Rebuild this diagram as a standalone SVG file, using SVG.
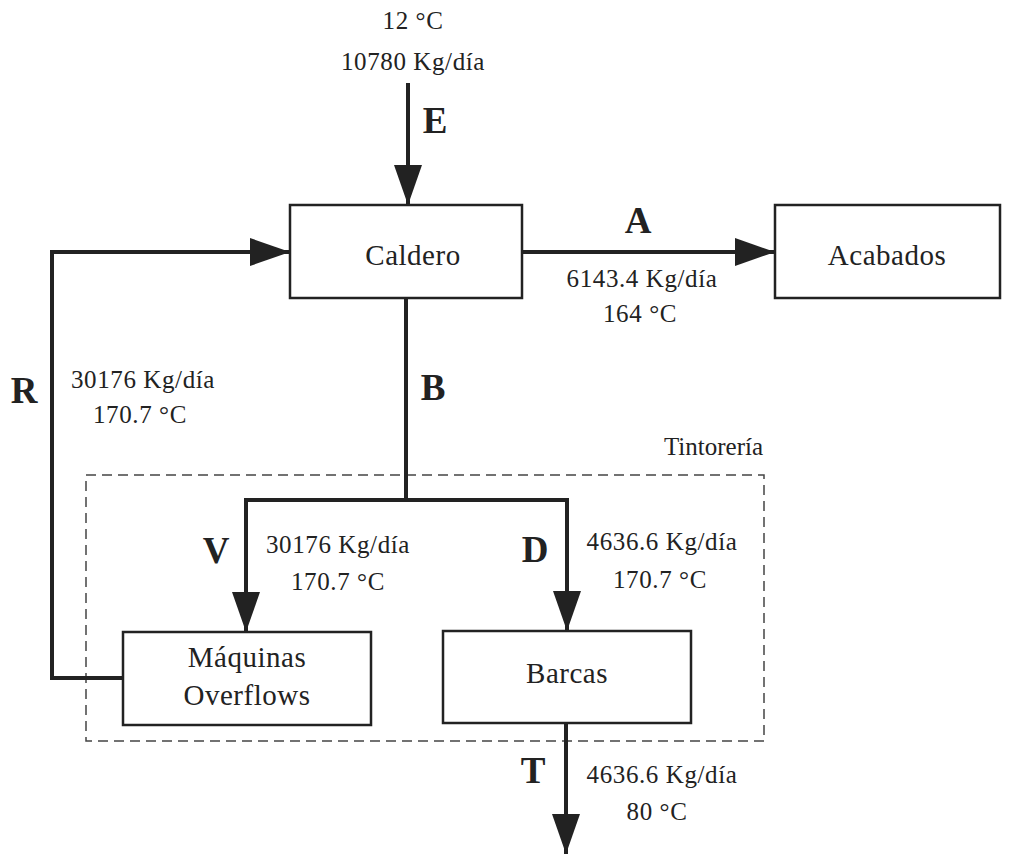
<svg xmlns="http://www.w3.org/2000/svg" width="1010" height="854" viewBox="0 0 1010 854">
  <defs>
    <marker id="arrow" markerUnits="userSpaceOnUse" markerWidth="40" markerHeight="28" refX="40" refY="14" orient="auto">
      <path d="M0,0 L40,14 L0,28 Z" fill="#222"/>
    </marker>
    <style>
      text { font-family: "Liberation Serif", "Times New Roman", serif; fill: #222; }
      .node rect { fill: #fff; stroke: #222; stroke-width: 2.5; }
      .node text { font-size: 29px; text-anchor: middle; letter-spacing: 0.5px; }
      .flow { fill: none; stroke: #222; stroke-width: 4; }
      .val { font-size: 25px; text-anchor: middle; letter-spacing: 0.6px; }
      .tag { font-size: 37px; font-weight: bold; text-anchor: middle; }
      .zone { fill: none; stroke: #444; stroke-width: 1.5; stroke-dasharray: 10 6; }
    </style>
  </defs>
  <rect width="1010" height="854" fill="#fff"/>

  <!-- Tintorería area -->
  <g id="tintoreria">
    <rect class="zone" x="86" y="475" width="678" height="266"/>
    <text x="763" y="455" style="font-size:25px;text-anchor:end">Tintorería</text>
  </g>

  <!-- streams -->
  <g id="connectors">
    <line class="flow" x1="408" y1="83" x2="408" y2="205" marker-end="url(#arrow)"/>
    <line class="flow" x1="522" y1="252" x2="775" y2="252" marker-end="url(#arrow)"/>
    <polyline class="flow" points="123,678 52,678 52,252 290,252" marker-end="url(#arrow)"/>
    <line class="flow" x1="406" y1="298" x2="406" y2="500"/>
    <polyline class="flow" points="246,560 246,500 567,500 567,560"/>
    <line class="flow" x1="246" y1="540" x2="246" y2="632" marker-end="url(#arrow)"/>
    <line class="flow" x1="567" y1="540" x2="567" y2="631" marker-end="url(#arrow)"/>
    <line class="flow" x1="566" y1="723" x2="566" y2="854" marker-end="url(#arrow)"/>
  </g>

  <!-- stream labels -->
  <g id="labels">
    <text class="val" x="413" y="29">12 °C</text>
    <text class="val" x="413" y="70">10780 Kg/día</text>
    <text class="tag" x="435" y="133">E</text>

    <text class="tag" x="638" y="233">A</text>
    <text class="val" x="642" y="287">6143.4 Kg/día</text>
    <text class="val" x="640" y="322">164 °C</text>

    <text class="tag" x="24" y="403">R</text>
    <text class="val" x="143" y="388">30176 Kg/día</text>
    <text class="val" x="140" y="423">170.7 °C</text>

    <text class="tag" x="433" y="400">B</text>

    <text class="tag" x="216" y="563">V</text>
    <text class="val" x="338" y="553">30176 Kg/día</text>
    <text class="val" x="338" y="590">170.7 °C</text>

    <text class="tag" x="535" y="562">D</text>
    <text class="val" x="662" y="550">4636.6 Kg/día</text>
    <text class="val" x="660" y="588">170.7 °C</text>

    <text class="tag" x="533" y="783">T</text>
    <text class="val" x="662" y="783">4636.6 Kg/día</text>
    <text class="val" x="657" y="820">80 °C</text>
  </g>

  <g id="caldero" class="node">
    <rect x="290" y="205" width="232" height="93"/>
    <text x="413" y="265">Caldero</text>
  </g>

  <g id="acabados" class="node">
    <rect x="775" y="205" width="225" height="93"/>
    <text x="887" y="265">Acabados</text>
  </g>

  <g id="maquinas" class="node">
    <rect x="123" y="632" width="248" height="93"/>
    <text x="247" y="667">Máquinas</text>
    <text x="247" y="705">Overflows</text>
  </g>

  <g id="barcas" class="node">
    <rect x="443" y="631" width="248" height="92"/>
    <text x="567" y="683">Barcas</text>
  </g>
</svg>
